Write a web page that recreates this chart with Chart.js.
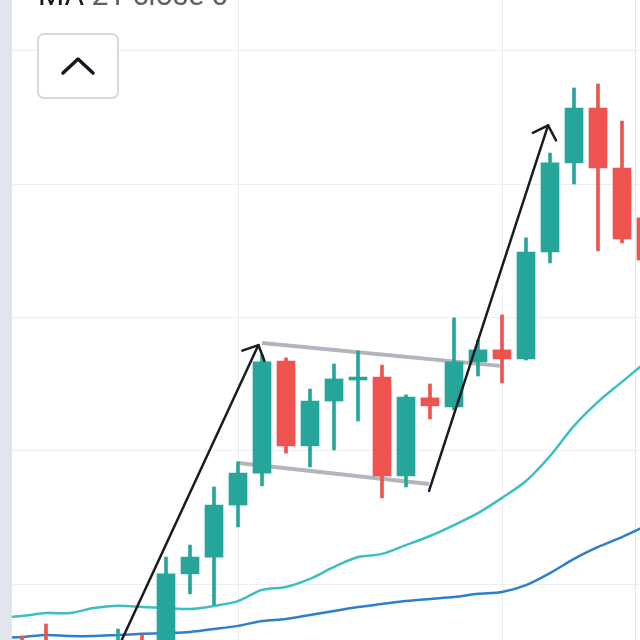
<!DOCTYPE html>
<html>
<head>
<meta charset="utf-8">
<script src="https://cdn.jsdelivr.net/npm/chart.js@4.4.1/dist/chart.umd.min.js"></script>
<style>
  html, body { margin: 0; padding: 0; background: #fff; }
  #wrap { position: relative; width: 640px; height: 640px; overflow: hidden; }
  #chart { position: absolute; left: 0; top: 0; }
  .edge { position: absolute; left: 635px; top: 0; width: 1px; height: 640px; background: #e6e8ee; }
  .strip { position: absolute; left: 0; top: 0; width: 12px; height: 640px; background: #e2e5ef; }
  .legend { position: absolute; left: 38px; top: -20px; font: 30px Roboto, sans-serif; line-height: 30px; white-space: nowrap; color: #5d606b; }
  .legend b { font-weight: normal; color: #131722; }
  .btn { position: absolute; left: 37px; top: 33px; width: 78px; height: 62px; border: 2px solid #d6d8de; border-radius: 7px; background: #fff; }
</style>
</head>
<body>
<div id="wrap">
  <div class="edge"></div>
  <canvas id="chart" width="640" height="640"></canvas>
  <div class="strip"></div>
  <div class="legend"><b>MA</b> 21 close 0</div>
  <div class="btn">
    <svg width="78" height="62"><polyline points="24,38 39,24 54,38" fill="none" stroke="#131722" stroke-width="3.5" stroke-linecap="round" stroke-linejoin="round"/></svg>
  </div>
</div>
<script>
// --- data ---
const idx    = [0, 1, 2, 3, 4, 5, 6, 7, 8, 9, 10, 11, 12, 13, 14, 15, 16, 17, 18, 19, 20, 21, 22, 23, 24, 25, 26, 27];
const opens  = [92.5, 92.71, 92.83, 91.96, 92.45, 92.34, 92.79, 92.53, 95.38, 96.01, 97.96, 99.16, 103.36, 100.18, 101.86, 102.65, 102.76, 99.05, 101.98, 101.64, 103.33, 103.78, 103.44, 107.45, 110.79, 112.85, 110.6, 108.73];
const highs  = [92.7, 93.05, 93.5, 92.71, 92.6, 93.31, 93.09, 96.01, 96.46, 98.64, 99.58, 103.59, 103.48, 102.31, 103.25, 103.74, 103.21, 102.09, 102.5, 104.98, 104.15, 105.09, 107.98, 111.16, 113.6, 113.75, 112.36, 109.4];
const lows   = [92.0, 91.96, 92.15, 91.85, 91.85, 92.15, 92.23, 92.34, 94.63, 94.21, 97.14, 98.68, 99.91, 99.39, 100.03, 101.11, 98.23, 98.64, 101.19, 101.53, 102.8, 102.54, 103.4, 107.04, 110.0, 107.49, 107.79, 106.78];
const closes = [92.2, 92.15, 92.34, 92.53, 92.08, 92.83, 92.45, 95.38, 96.01, 97.96, 99.16, 103.33, 100.18, 101.86, 102.69, 102.76, 99.05, 102.01, 101.68, 103.33, 103.78, 103.44, 107.45, 110.79, 112.85, 110.6, 107.94, 107.15];
const maFast = [93.73, 93.8, 93.91, 93.91, 94.1, 94.18, 94.14, 94.1, 94.06, 94.18, 94.36, 94.78, 94.89, 95.19, 95.64, 96.01, 96.13, 96.46, 96.8, 97.21, 97.66, 98.23, 98.86, 99.8, 100.93, 101.83, 102.58, 103.33];
const maSlow = [92.98, 93.01, 93.09, 93.05, 93.05, 93.09, 93.13, 93.16, 93.2, 93.31, 93.43, 93.61, 93.69, 93.84, 93.99, 94.14, 94.25, 94.36, 94.44, 94.51, 94.63, 94.7, 94.96, 95.41, 95.94, 96.39, 96.76, 97.18];
const gridX = [10, 21];
const gridY = [95, 100, 105, 110, 115];
// drawn trend lines: [x1, y1, x2, y2] in candle index / price
const arrows    = [[4.77, 92.15, 10.85, 103.96], [17.96, 98.49, 22.92, 112.2]];
const flagLines = [[11.0, 104.04, 20.92, 103.18], [10.0, 99.54, 17.96, 98.75]];

const UP = '#26a69a', DOWN = '#ef5350';
const candleColor = (ctx) => closes[ctx.dataIndex] >= opens[ctx.dataIndex] ? UP : DOWN;

const strokeSegments = (chart, list, color, width, withHead) => {
    const { ctx, scales: { x, y } } = chart;
    ctx.save();
    ctx.strokeStyle = color;
    ctx.lineWidth = width;
    ctx.lineCap = withHead ? 'round' : 'butt';
    ctx.lineJoin = 'round';
    list.forEach(seg => {
        const x1 = x.getPixelForValue(seg[0]), y1 = y.getPixelForValue(seg[1]);
        const x2 = x.getPixelForValue(seg[2]), y2 = y.getPixelForValue(seg[3]);
        ctx.beginPath();
        ctx.moveTo(x1, y1);
        ctx.lineTo(x2, y2);
        ctx.stroke();
        if (withHead) {
            const a = Math.atan2(y2 - y1, x2 - x1);
            const len = 17, spread = 0.8;
            ctx.beginPath();
            ctx.moveTo(x2 + len * Math.cos(a + Math.PI - spread), y2 + len * Math.sin(a + Math.PI - spread));
            ctx.lineTo(x2, y2);
            ctx.lineTo(x2 + len * Math.cos(a + Math.PI + spread), y2 + len * Math.sin(a + Math.PI + spread));
            ctx.stroke();
        }
    });
    ctx.restore();
};

const drawings = {
    id: 'drawings',
    beforeDatasetsDraw(chart) { strokeSegments(chart, flagLines, '#b2b5bd', 4, false); },
    afterDatasetsDraw(chart) { strokeSegments(chart, arrows, '#1c1c1e', 2.5, true); }
};

const gridStyle = { color: '#eceef2', lineWidth: 1, drawTicks: false, offset: false };

new Chart(document.getElementById('chart'), {
    type: 'bar',
    data: {
        datasets: [
            {
                label: 'body',
                data: idx.map((i, k) => ({ x: i, y: [opens[k], closes[k]] })),
                backgroundColor: candleColor,
                barThickness: 18,
                grouped: false,
                borderWidth: 0,
                borderSkipped: false,
                order: 0
            },
            {
                label: 'wick',
                data: idx.map((i, k) => ({ x: i, y: [lows[k], highs[k]] })),
                backgroundColor: candleColor,
                barThickness: 3,
                grouped: false,
                borderWidth: 0,
                borderSkipped: false,
                order: 1
            },
            {
                type: 'line',
                label: 'MA fast',
                data: idx.map((i, k) => ({ x: i, y: maFast[k] })),
                borderColor: '#3dbfc2',
                borderWidth: 2.5,
                pointRadius: 0,
                tension: 0.3,
                order: 2
            },
            {
                type: 'line',
                label: 'MA slow',
                data: idx.map((i, k) => ({ x: i, y: maSlow[k] })),
                borderColor: '#2e7fcb',
                borderWidth: 2.5,
                pointRadius: 0,
                tension: 0.3,
                order: 3
            }
        ]
    },
    options: {
        responsive: false,
        animation: false,
        layout: { padding: 0 },
        plugins: { legend: { display: false }, tooltip: { enabled: false } },
        scales: {
            x: {
                type: 'linear',
                offset: false,
                min: 0.0833,
                max: 26.75,
                grid: gridStyle,
                border: { display: false },
                ticks: { display: false },
                afterBuildTicks: s => { s.ticks = gridX.map(v => ({ value: v })); }
            },
            y: {
                type: 'linear',
                min: 92.9,
                max: 116.9,
                grid: gridStyle,
                border: { display: false },
                ticks: { display: false },
                afterBuildTicks: s => { s.ticks = gridY.map(v => ({ value: v })); }
            }
        }
    },
    plugins: [drawings]
});
</script>
</body>
</html>
